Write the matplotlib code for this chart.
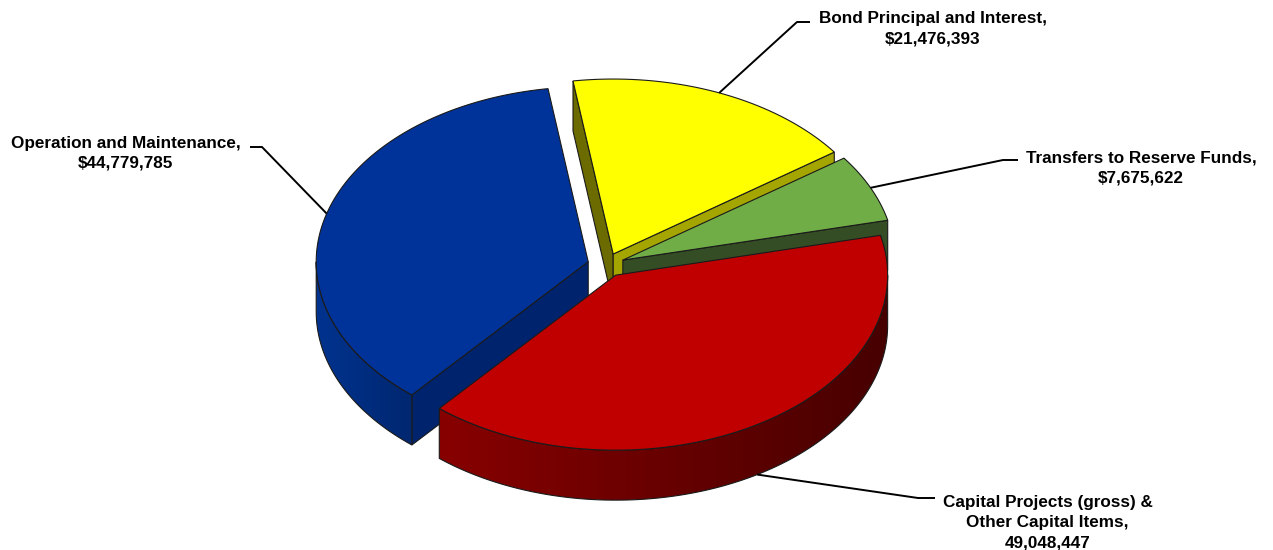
import numpy as np
import matplotlib
matplotlib.use("Agg")
import matplotlib.pyplot as plt
from matplotlib.patches import Polygon
from matplotlib.colors import LinearSegmentedColormap

# ---------------- data ----------------
categories = ["Bond Principal and Interest,",
              "Transfers to Reserve Funds,",
              "Capital Projects (gross) &\nOther Capital Items,",
              "Operation and Maintenance,"]
values = [21476393, 7675622, 49048447, 44779785]
dollar_prefix = [True, True, False, True]

top_colors = ["#FFFF00", "#70AD47", "#C00000", "#003399"]
start_face_colors = ["#6B6B00", "#2E4620", "#600000", "#00236E"]
end_face_colors = ["#A5A500", "#344D24", "#800000", "#002166"]
wall_colors = [("#9A9A00", "#5A5A00"), ("#4A7A30", "#2E4620"),
               ("#880000", "#470000"), ("#00338F", "#00276F")]

# ---------------- layout ----------------
CX, CY = 606, 265
A, B = 272, 175
DEPTH = 50
EXPLODE = 0.068
START = -8.5  # degrees clockwise from 12 o'clock

label_x = [933, 1141, 1047.5, 125.5]
label_first_baseline = [23.5, 162.5, 507, 148]
elbows = [(797, 22), (1003, 160), (918, 498), (262, 147)]
hook_ends = [(810, 22), (1018, 160), (935, 498), (250, 147)]
LINE_STEP = 20.0
FONT = dict(family=["Liberation Sans", "DejaVu Sans"], weight="bold", fontsize=12.3)

fig = plt.figure(figsize=(12.73, 5.5), dpi=100)
ax = fig.add_axes([0, 0, 1, 1])
ax.axis("off")

vals = np.array(values, dtype=float)
spans = 360.0 * vals / vals.sum()
starts = START + np.concatenate([[0], np.cumsum(spans)[:-1]])
ends = starts + spans
mids = starts + spans / 2


def rim(th, c, z=0.0):
    t = np.radians(np.atleast_1d(th))
    return np.column_stack([c[0] + A * np.sin(t), c[1] - B * np.cos(t) + z])


centers = [(CX + EXPLODE * A * np.sin(np.radians(m)),
            CY - EXPLODE * B * np.cos(np.radians(m))) for m in mids]

EDGE = dict(edgecolor="#1a1a1a", linewidth=0.8)
grad = np.linspace(0, 1, 256).reshape(1, -1)

order = np.argsort(-np.cos(np.radians(mids)))
for i in order:
    s, e, c = starts[i], ends[i], centers[i]
    tip_t = np.array(c)
    tip_b = np.array([c[0], c[1] + DEPTH])
    # radial faces
    if np.sin(np.radians(s)) < 0:
        p = rim(s, c)[0]
        ax.add_patch(Polygon([tip_t, p, p + [0, DEPTH], tip_b], closed=True,
                             facecolor=start_face_colors[i], **EDGE, zorder=2))
    if np.sin(np.radians(e)) > 0:
        p = rim(e, c)[0]
        ax.add_patch(Polygon([tip_t, p, p + [0, DEPTH], tip_b], closed=True,
                             facecolor=end_face_colors[i], **EDGE, zorder=2))
    # outer wall (front half only) with horizontal gradient
    for k in (-1, 0, 1):
        lo = max(s, 90 + 360 * k)
        hi = min(e, 270 + 360 * k)
        if hi > lo:
            th = np.linspace(lo, hi, 200)
            top = rim(th, c)
            bot = rim(th, c, DEPTH)
            outline = np.vstack([top, bot[::-1]])
            x0, x1 = outline[:, 0].min(), outline[:, 0].max()
            y0, y1 = outline[:, 1].min(), outline[:, 1].max()
            cmap = LinearSegmentedColormap.from_list("w%d" % i, list(wall_colors[i]))
            clip = Polygon(outline, closed=True, facecolor="none", edgecolor="none",
                           transform=ax.transData)
            ax.add_patch(clip)
            im = ax.imshow(grad, cmap=cmap, extent=(x0, x1, y1, y0), aspect="auto",
                           interpolation="bilinear", zorder=2)
            im.set_clip_path(clip)
            ax.add_patch(Polygon(outline, closed=True, facecolor="none", **EDGE, zorder=2))
    # top face
    arc = rim(np.linspace(s, e, 240), c)
    ax.add_patch(Polygon(np.vstack([tip_t, arc]), closed=True,
                         facecolor=top_colors[i], **EDGE, zorder=2))

# leader lines and labels
for i in range(len(values)):
    m = mids[i]
    z = DEPTH if np.cos(np.radians(m)) < 0 else 0.0
    p0 = rim(m, centers[i], z)[0]
    ax.plot([p0[0], elbows[i][0], hook_ends[i][0]],
            [p0[1], elbows[i][1], hook_ends[i][1]], color="black", lw=1.4,
            solid_capstyle="butt", zorder=3)
    val = ("$" if dollar_prefix[i] else "") + f"{values[i]:,}"
    lines = categories[i].split("\n") + [val]
    for k, ln in enumerate(lines):
        ax.text(label_x[i], label_first_baseline[i] + k * LINE_STEP, ln,
                ha="center", va="baseline", zorder=4, **FONT)

ax.set_xlim(0, 1273)
ax.set_ylim(550, 0)
fig.savefig("out.png", dpi=100)
